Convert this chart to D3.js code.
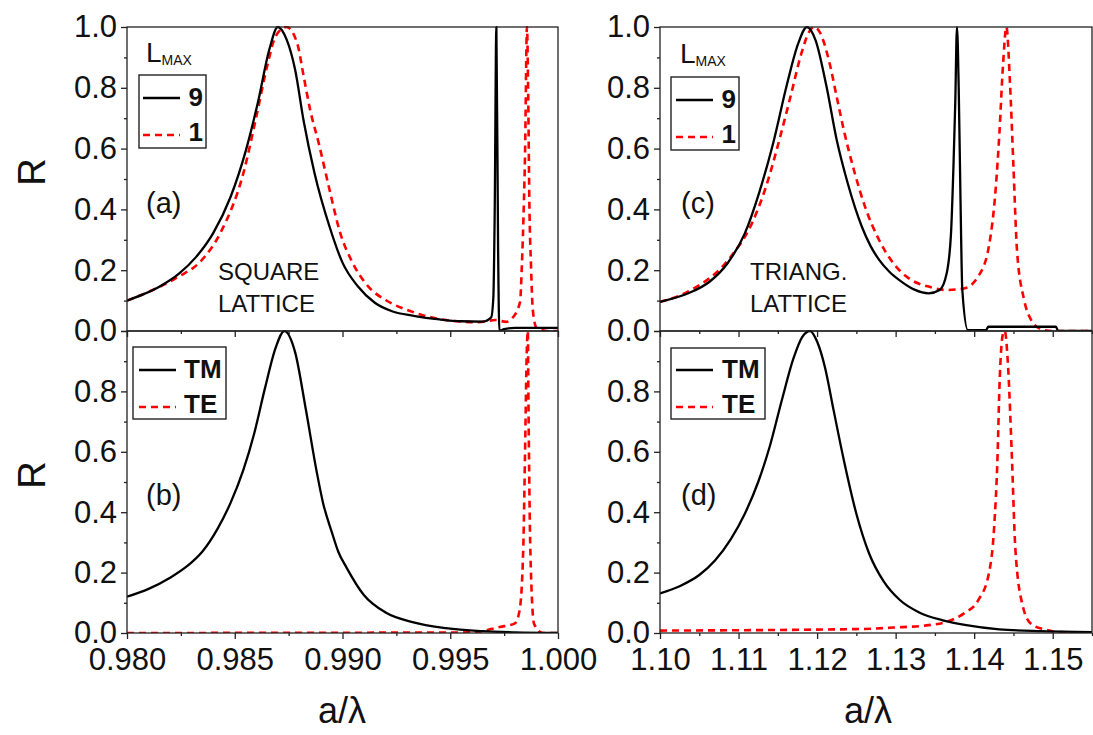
<!DOCTYPE html>
<meta charset="utf-8">
<script src="https://d3js.org/d3.v7.min.js"></script>
<style>
  body { margin: 0; background: #fff; }
  text { font-family: "Liberation Sans", Arial, sans-serif; fill: #111; }
</style>
<div id="chart"></div>
<script>
  var width = 1093
  var height = 735

  // panel (a): square lattice, L_MAX = 9 / 1
  var aX9 = [0.9800, 0.9808, 0.9816, 0.9824, 0.9832, 0.9840, 0.9848, 0.9855, 0.9861, 0.9866, 0.9870, 0.9874, 0.9878, 0.9882, 0.9887, 0.9894, 0.9900, 0.9907, 0.9915, 0.9923, 0.9933, 0.9945, 0.9955, 0.9965, 0.9969, 0.99700, 0.99706, 0.99714, 0.99722, 0.99728, 0.9975, 0.9980, 1.0000]
  var aR9 = [0.100, 0.122, 0.150, 0.188, 0.243, 0.322, 0.440, 0.590, 0.760, 0.925, 1.000, 0.960, 0.860, 0.690, 0.520, 0.343, 0.225, 0.148, 0.093, 0.065, 0.050, 0.038, 0.032, 0.031, 0.045, 0.110, 0.370, 1.000, 0.270, 0.000, 0.006, 0.010, 0.010]
  var aX1 = [0.9800, 0.9812, 0.9824, 0.9834, 0.9844, 0.9854, 0.9860, 0.9865, 0.9869, 0.9874, 0.9879, 0.9882, 0.9885, 0.9889, 0.9894, 0.9899, 0.9904, 0.9912, 0.9920, 0.9932, 0.9948, 0.9963, 0.9971, 0.9976, 0.99785, 0.99824, 0.99832, 0.99842, 0.99847, 0.99856, 0.99862, 0.99867, 0.99875, 0.99883, 0.99901, 0.99948, 1.0000]
  var aR1 = [0.100, 0.135, 0.179, 0.228, 0.332, 0.519, 0.705, 0.870, 0.970, 1.000, 0.946, 0.837, 0.727, 0.617, 0.464, 0.321, 0.234, 0.146, 0.102, 0.064, 0.036, 0.029, 0.036, 0.030, 0.040, 0.096, 0.210, 0.430, 0.580, 1.000, 0.760, 0.430, 0.210, 0.070, 0.010, 0.000, 0.000]

  // panel (b): square lattice, TM / TE
  var bXtm = [0.9800, 0.9810, 0.9820, 0.9828, 0.9835, 0.9842, 0.9848, 0.9854, 0.9859, 0.9864, 0.9869, 0.9873, 0.9878, 0.9883, 0.9888, 0.9891, 0.9895, 0.9898, 0.9902, 0.9910, 0.9920, 0.9932, 0.9948, 0.9965, 0.9980, 1.0000]
  var bRtm = [0.120, 0.146, 0.183, 0.222, 0.270, 0.345, 0.430, 0.540, 0.660, 0.810, 0.945, 1.000, 0.930, 0.740, 0.535, 0.430, 0.335, 0.270, 0.215, 0.125, 0.068, 0.037, 0.016, 0.006, 0.002, 0.000]
  var bXte = [0.9800, 0.9960, 0.9973, 0.9980, 0.99822, 0.99839, 0.99847, 0.99855, 0.99860, 0.99863, 0.99872, 0.99889, 0.99930, 1.0000]
  var bRte = [0.000, 0.002, 0.020, 0.032, 0.076, 0.286, 0.595, 0.930, 1.000, 0.760, 0.265, 0.030, 0.000, 0.000]

  // panel (c): triangular lattice, L_MAX = 9 / 1
  var cX9 = [1.1000, 1.1036, 1.1063, 1.1086, 1.1108, 1.1126, 1.1144, 1.1162, 1.1176, 1.1187, 1.1198, 1.1212, 1.1225, 1.1239, 1.1257, 1.1268, 1.1279, 1.1292, 1.1306, 1.1324, 1.1342, 1.1356, 1.1365, 1.13705, 1.13736, 1.13759, 1.13781, 1.13803, 1.13826, 1.13849, 1.1392, 1.1415, 1.1418, 1.1504, 1.1507, 1.1550]
  var cR9 = [0.096, 0.124, 0.162, 0.223, 0.321, 0.453, 0.617, 0.815, 0.946, 1.000, 0.957, 0.804, 0.628, 0.486, 0.343, 0.280, 0.234, 0.195, 0.165, 0.136, 0.124, 0.135, 0.190, 0.321, 0.540, 0.749, 1.000, 0.800, 0.430, 0.135, 0.003, 0.003, 0.014, 0.014, 0.000, 0.000]
  var cX1 = [1.1000, 1.1036, 1.1090, 1.1117, 1.1135, 1.1153, 1.1167, 1.1180, 1.1190, 1.1196, 1.1203, 1.1216, 1.1225, 1.1234, 1.1248, 1.1261, 1.1279, 1.1297, 1.1320, 1.1342, 1.1365, 1.1387, 1.1405, 1.14186, 1.14276, 1.14321, 1.14366, 1.1441, 1.14456, 1.1450, 1.14545, 1.14636, 1.14726, 1.14861, 1.1500, 1.1550]
  var cR1 = [0.096, 0.130, 0.244, 0.354, 0.475, 0.639, 0.780, 0.913, 0.985, 1.000, 0.985, 0.880, 0.770, 0.661, 0.519, 0.409, 0.299, 0.223, 0.168, 0.146, 0.135, 0.140, 0.179, 0.277, 0.475, 0.650, 0.870, 1.000, 0.815, 0.540, 0.266, 0.102, 0.036, 0.005, 0.000, 0.000]

  // panel (d): triangular lattice, TM / TE
  var dXtm = [1.1000, 1.1025, 1.1050, 1.1070, 1.1090, 1.1108, 1.1125, 1.1140, 1.1155, 1.1170, 1.1181, 1.1191, 1.1200, 1.1210, 1.1221, 1.1234, 1.1250, 1.1266, 1.1285, 1.1305, 1.1330, 1.1360, 1.1390, 1.1432, 1.1486, 1.1550]
  var dRtm = [0.131, 0.155, 0.192, 0.240, 0.310, 0.395, 0.500, 0.620, 0.770, 0.910, 0.980, 1.000, 0.965, 0.880, 0.738, 0.573, 0.395, 0.265, 0.170, 0.110, 0.068, 0.042, 0.026, 0.012, 0.006, 0.003]
  var dXte = [1.1000, 1.1252, 1.1297, 1.1342, 1.1365, 1.1387, 1.1405, 1.14186, 1.14254, 1.14298, 1.14321, 1.14366, 1.14389, 1.14434, 1.14479, 1.14524, 1.14614, 1.14726, 1.14906, 1.1510, 1.1550]
  var dRte = [0.008, 0.013, 0.018, 0.026, 0.037, 0.065, 0.108, 0.196, 0.350, 0.590, 0.810, 0.990, 1.000, 0.870, 0.590, 0.280, 0.094, 0.030, 0.011, 0.003, 0.000]

  // ticks
  var yMajor = [0, 0.2, 0.4, 0.6, 0.8, 1.0]
  var yMinor = [0.1, 0.3, 0.5, 0.7, 0.9]
  var leftMajor = [0.980, 0.985, 0.990, 0.995, 1.000]
  var leftMinor = [0.9825, 0.9875, 0.9925, 0.9975]
  var rightMajor = [1.10, 1.11, 1.12, 1.13, 1.14, 1.15]
  var rightMinor = [1.105, 1.115, 1.125, 1.135, 1.145, 1.155]

  var svg = d3.select("#chart")
    .append("svg")
    .attr("width", width)
    .attr("height", height)

  var xLeft = d3.scaleLinear().domain([0.980, 1.000]).range([127, 558])
  var xRight = d3.scaleLinear().domain([1.10, 1.155]).range([660, 1092])
  var yTop = d3.scaleLinear().domain([0, 1]).range([331, 27])
  var yBot = d3.scaleLinear().domain([0, 1]).range([633, 331])

  var panels = [
    { id: "a", x: xLeft, y: yTop, xMaj: leftMajor, xMin: leftMinor, fmt: ".3f", bottom: false,
      series: [[aX9, aR9, "TM"], [aX1, aR1, "TE"]] },
    { id: "b", x: xLeft, y: yBot, xMaj: leftMajor, xMin: leftMinor, fmt: ".3f", bottom: true,
      series: [[bXtm, bRtm, "TM"], [bXte, bRte, "TE"]] },
    { id: "c", x: xRight, y: yTop, xMaj: rightMajor, xMin: rightMinor, fmt: ".2f", bottom: false,
      series: [[cX9, cR9, "TM"], [cX1, cR1, "TE"]] },
    { id: "d", x: xRight, y: yBot, xMaj: rightMajor, xMin: rightMinor, fmt: ".2f", bottom: true,
      series: [[dXtm, dRtm, "TM"], [dXte, dRte, "TE"]] }
  ]

  function styleAxis(g) {
    g.select(".domain").remove()
    g.selectAll("line").attr("stroke", "#222").attr("stroke-width", 1.3)
    g.selectAll("text")
      .style("font-family", "'Liberation Sans', Arial, sans-serif")
      .style("font-size", "31px")
      .attr("fill", "#111")
  }

  panels.forEach(function (p) {
    var x0 = p.x.range()[0], x1 = p.x.range()[1]
    var y0 = p.y.range()[1], y1 = p.y.range()[0]

    var clip = svg.append("clipPath").attr("id", "clip-" + p.id)
    clip.append("rect").attr("x", x0).attr("y", y0 - 1).attr("width", x1 - x0).attr("height", y1 - y0 + 1)

    var g = svg.append("g")

    // curves
    var line = d3.line()
      .x(function (d) { return p.x(d[0]) })
      .y(function (d) { return p.y(d[1]) })
      .curve(d3.curveMonotoneX)

    p.series.slice().reverse().forEach(function (s) {
      var pts = s[0].map(function (v, i) { return [v, s[1][i]] })
      g.append("path")
        .datum(pts)
        .attr("clip-path", "url(#clip-" + p.id + ")")
        .attr("fill", "none")
        .attr("stroke", s[2] == "TM" ? "#000" : "#ff0000")
        .attr("stroke-width", s[2] == "TM" ? 2.3 : 2.6)
        .attr("stroke-dasharray", s[2] == "TM" ? null : "7,5")
        .attr("d", line)
    })

    // frame
    g.append("rect")
      .attr("x", x0).attr("y", y0)
      .attr("width", x1 - x0).attr("height", y1 - y0)
      .attr("fill", "none").attr("stroke", "#222").attr("stroke-width", 1.3)

    // y axis
    var yLabels = p.bottom ? yMajor.slice(0, 5) : yMajor
    g.append("g").attr("transform", "translate(" + x0 + ",0)")
      .call(d3.axisLeft(p.y).tickValues(yMajor).tickSize(6).tickPadding(4)
        .tickFormat(function (d) { return yLabels.indexOf(d) >= 0 ? d3.format(".1f")(d) : "" }))
      .call(styleAxis)
    g.append("g").attr("transform", "translate(" + x0 + ",0)")
      .call(d3.axisLeft(p.y).tickValues(yMinor).tickSize(3).tickFormat(""))
      .call(styleAxis)

    // x axis
    g.append("g").attr("transform", "translate(0," + y1 + ")")
      .call(d3.axisBottom(p.x).tickValues(p.xMaj).tickSize(6).tickPadding(9)
        .tickFormat(p.bottom ? d3.format(p.fmt) : ""))
      .call(styleAxis)
    g.append("g").attr("transform", "translate(0," + y1 + ")")
      .call(d3.axisBottom(p.x).tickValues(p.xMin).tickSize(3).tickFormat(""))
      .call(styleAxis)
  })

  // axis titles
  svg.append("text").attr("transform", "translate(45,172) rotate(-90)")
    .attr("text-anchor", "middle").style("font-size", "38px").text("R")
  svg.append("text").attr("transform", "translate(45,475) rotate(-90)")
    .attr("text-anchor", "middle").style("font-size", "38px").text("R")
  svg.append("text").attr("x", 342).attr("y", 723)
    .attr("text-anchor", "middle").style("font-size", "36px").text("a/λ")
  svg.append("text").attr("x", 868).attr("y", 723)
    .attr("text-anchor", "middle").style("font-size", "36px").text("a/λ")

  // panel letters
  var letters = [["(a)", 146, 213], ["(b)", 146, 505], ["(c)", 681, 213], ["(d)", 681, 505]]
  letters.forEach(function (l) {
    svg.append("text").attr("x", l[1]).attr("y", l[2]).style("font-size", "29px").text(l[0])
  })

  // lattice notes
  var notes = [["SQUARE", 218, 280], ["LATTICE", 218, 312], ["TRIANG.", 750, 280], ["LATTICE", 750, 312]]
  notes.forEach(function (n) {
    svg.append("text").attr("x", n[1]).attr("y", n[2]).style("font-size", "24px").text(n[0])
  })

  // legends
  function legend(bx, by, bw, bh, lx, ly1, ly2, tx, anchor, labels) {
    svg.append("rect").attr("x", bx).attr("y", by).attr("width", bw).attr("height", bh)
      .attr("fill", "#fff").attr("stroke", "#222").attr("stroke-width", 1.4)
    svg.append("line").attr("x1", lx).attr("x2", lx + 37).attr("y1", ly1).attr("y2", ly1)
      .attr("stroke", "#000").attr("stroke-width", 2.3)
    svg.append("line").attr("x1", lx).attr("x2", lx + 37).attr("y1", ly2).attr("y2", ly2)
      .attr("stroke", "#ff0000").attr("stroke-width", 2.6).attr("stroke-dasharray", "7,5")
    svg.append("text").attr("x", tx).attr("y", ly1 + 8).attr("text-anchor", anchor)
      .style("font-size", "26px").style("font-weight", "bold").text(labels[0])
    svg.append("text").attr("x", tx).attr("y", ly2 + 6).attr("text-anchor", anchor)
      .style("font-size", "26px").style("font-weight", "bold").text(labels[1])
  }
  legend(139, 75, 67, 73, 143, 98, 135, 203, "end", ["9", "1"])
  legend(671, 77, 68, 73, 676, 100, 137, 736, "end", ["9", "1"])
  legend(133, 347, 93, 72, 139, 370, 407, 184, "start", ["TM", "TE"])
  legend(671, 348, 94, 71, 676, 370, 407, 722, "start", ["TM", "TE"])

  // L_MAX headers
  var lmax = [[146, 62], [680, 63]]
  lmax.forEach(function (m) {
    var t = svg.append("text").attr("x", m[0]).attr("y", m[1]).style("font-size", "28px")
    t.append("tspan").text("L")
    t.append("tspan").attr("dy", 3).style("font-size", "14px").text("MAX")
  })
</script>
